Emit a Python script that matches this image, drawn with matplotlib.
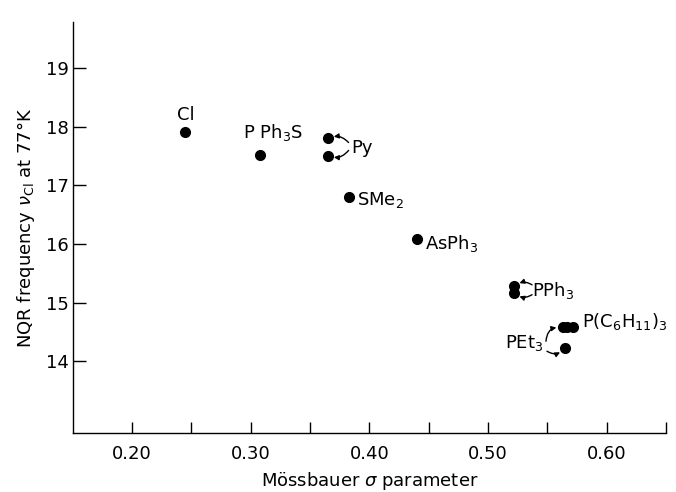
import matplotlib
matplotlib.use("Agg")
import matplotlib.pyplot as plt
from matplotlib.ticker import FixedLocator

# Data
sigma = [0.245, 0.308, 0.365, 0.365, 0.383, 0.440, 0.522, 0.522, 0.563, 0.567, 0.572, 0.565]
nqr = [17.90, 17.52, 17.80, 17.50, 16.80, 16.08, 15.28, 15.16, 14.58, 14.58, 14.58, 14.22]

x_ticks = [0.20, 0.30, 0.40, 0.50, 0.60]
x_tick_labels = ["0.20", "0.30", "0.40", "0.50", "0.60"]
x_minor_ticks = [0.25, 0.35, 0.45, 0.55, 0.65]
y_ticks = [14, 15, 16, 17, 18, 19]
y_tick_labels = ["14", "15", "16", "17", "18", "19"]

plt.rcParams['font.family'] = ['DejaVu Sans']
plt.rcParams['mathtext.fontset'] = 'dejavusans'

fig = plt.figure(figsize=(6.76, 4.92), dpi=100)
ax = fig.add_axes([0.1075, 0.12, 0.8775, 0.835])

ax.plot(sigma, nqr, 'o', color='black', markersize=7, zorder=3)

ax.set_xlim(0.15, 0.65)
ax.set_ylim(12.78, 19.78)
ax.xaxis.set_major_locator(FixedLocator(x_ticks))
ax.set_xticklabels(x_tick_labels)
ax.xaxis.set_minor_locator(FixedLocator(x_minor_ticks))
ax.yaxis.set_major_locator(FixedLocator(y_ticks))
ax.set_yticklabels(y_tick_labels)
ax.tick_params(axis='both', which='both', direction='in', length=8, width=1.0,
               labelsize=13)
ax.tick_params(axis='x', which='major', pad=9)
ax.tick_params(axis='y', length=9, pad=3)
for s in ['top', 'right']:
    ax.spines[s].set_visible(False)
for s in ['left', 'bottom']:
    ax.spines[s].set_linewidth(1.0)

ax.set_xlabel("Mössbauer $\\sigma$ parameter", fontsize=13, labelpad=5)
ax.set_ylabel("NQR frequency $\\nu_{\\rm Cl}$ at 77°K", fontsize=13, labelpad=6)

fs = 13
def label(i, text, dx, dy, ha='left', va='center'):
    ax.annotate(text, xy=(sigma[i], nqr[i]), xytext=(dx, dy), textcoords='offset points',
                ha=ha, va=va, fontsize=fs)

def arrow(i, dx, dy, rad):
    ax.annotate('', xy=(sigma[i], nqr[i]), xytext=(dx, dy), textcoords='offset points',
                arrowprops=dict(arrowstyle='-|>', color='black', lw=1.0,
                                mutation_scale=7, shrinkA=0, shrinkB=4.5,
                                connectionstyle=f'arc3,rad={rad}'))

label(0, "Cl", 0, 6, ha='center', va='bottom')
label(1, "P Ph$_3$S", -12, 16)
# Py
ax.annotate("Py", xy=(sigma[2], nqr[2]), xytext=(17, -7), textcoords='offset points',
            ha='left', va='center', fontsize=fs)
arrow(2, 15, -3, 0.35)
arrow(3, 15, 4, -0.35)
label(4, "SMe$_2$", 6, -2)
label(5, "AsPh$_3$", 6, -3)
# PPh3
ax.annotate("PPh$_3$", xy=(sigma[6], nqr[6]), xytext=(13, -3), textcoords='offset points',
            ha='left', va='center', fontsize=fs)
arrow(6, 13, 1, 0.35)
arrow(7, 13, -1, -0.35)
# P(C6H11)3
label(10, "P(C$_6$H$_{11}$)$_3$", 6, 4)
# PEt3
ax.annotate("PEt$_3$", xy=(sigma[11], nqr[11]), xytext=(-43, 4), textcoords='offset points',
            ha='left', va='center', fontsize=fs)
arrow(8, -12, -10, -0.5)
arrow(11, -13, -2, 0.4)

fig.savefig("out.png", dpi=100)
